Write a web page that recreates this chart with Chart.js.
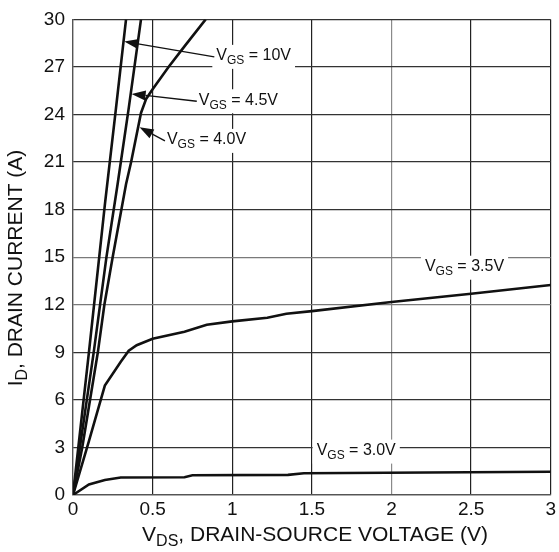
<!DOCTYPE html>
<html>
<head>
<meta charset="utf-8">
<script src="https://cdn.jsdelivr.net/npm/chart.js@4.4.1/dist/chart.umd.min.js"></script>
<style>
  body { margin: 0; background: #fff; }
  canvas { display: block; }
</style>
</head>
<body>
<canvas id="idChart" width="559" height="552"></canvas>
<script>
// =========================
// DATA
// =========================

const xTicks = [0, 0.5, 1, 1.5, 2, 2.5, 3];
const yTicks = [0, 3, 6, 9, 12, 15, 18, 21, 24, 27, 30];

const vgsNames = ["10V", "4.5V", "4.0V", "3.5V", "3.0V"];

const vds10 = [0, 0.1, 0.2, 0.27, 0.333];
const id10  = [0, 9, 18.3, 24.4, 30];

const vds45 = [0, 0.13, 0.21, 0.28, 0.35, 0.427];
const id45  = [0, 9, 15, 19.6, 24.4, 30];

const vds40 = [0, 0.058, 0.156, 0.197, 0.249, 0.333, 0.365, 0.427, 0.46, 0.5, 0.6, 0.7, 0.833];
const id40  = [0, 3, 9, 12, 15, 19.6, 21, 24.1, 25.0, 25.6, 27, 28.3, 30];

const vds35 = [0, 0.1, 0.2, 0.3, 0.35, 0.4, 0.5, 0.7, 0.84, 1.0, 1.22, 1.34, 1.5, 2.0, 2.5, 3.0];
const id35  = [0, 3.4, 6.9, 8.4, 9.1, 9.45, 9.85, 10.3, 10.74, 10.95, 11.18, 11.43, 11.6, 12.17, 12.69, 13.25];

const vds30 = [0, 0.1, 0.2, 0.3, 0.7, 0.75, 1.35, 1.45, 3.0];
const id30  = [0, 0.67, 0.95, 1.1, 1.12, 1.25, 1.27, 1.37, 1.47];

const curves = [[vds10, id10], [vds45, id45], [vds40, id40], [vds35, id35], [vds30, id30]];

const FONT = "'Liberation Sans', Arial, sans-serif";

// =========================
// label helpers (subscripts)
// =========================

function drawSub(ctx, x, y, main, sub, rest, size) {
    ctx.textBaseline = "middle";
    ctx.textAlign = "left";
    ctx.font = size + "px " + FONT;
    ctx.fillText(main, x, y);
    x += ctx.measureText(main).width;
    const subSize = Math.round(size * 0.78);
    ctx.font = subSize + "px " + FONT;
    ctx.fillText(sub, x, y + size * 0.32);
    x += ctx.measureText(sub).width;
    ctx.font = size + "px " + FONT;
    ctx.fillText(rest, x, y);
    x += ctx.measureText(rest).width;
    return x;
}

function subWidth(ctx, main, sub, rest, size) {
    ctx.font = size + "px " + FONT;
    let w = ctx.measureText(main).width + ctx.measureText(rest).width;
    ctx.font = Math.round(size * 0.78) + "px " + FONT;
    return w + ctx.measureText(sub).width;
}

// where each V_GS label sits, and where its arrow points (data units)
const notes = [
    { text: " = 10V",  x: 0.90, y: 27.7, tip: [0.322, 28.6] },
    { text: " = 4.5V", x: 0.79, y: 24.9, tip: [0.368, 25.3] },
    { text: " = 4.0V", x: 0.59, y: 22.4, tip: [0.418, 23.2] },
    { text: " = 3.5V", x: 2.21, y: 14.4 },
    { text: " = 3.0V", x: 1.53, y: 2.8 }
];

const notesPlugin = {
    id: "notes",
    afterDatasetsDraw(chart) {
        const ctx = chart.ctx;
        const xs = chart.scales.x, ys = chart.scales.y;
        ctx.save();
        notes.forEach(n => {
            const px = xs.getPixelForValue(n.x);
            const py = ys.getPixelForValue(n.y);
            const w = subWidth(ctx, "V", "GS", n.text, 16);
            ctx.fillStyle = "#fff";
            ctx.fillRect(px - 4, py - 11, w + 8, 24);
            ctx.fillStyle = "#111";
            drawSub(ctx, px, py, "V", "GS", n.text, 16);
            if (n.tip) {
                const tx = xs.getPixelForValue(n.tip[0]);
                const ty = ys.getPixelForValue(n.tip[1]);
                const sx = px - 2, sy = py + 1;
                const ang = Math.atan2(ty - sy, tx - sx);
                const len = 14, half = 5;
                const bx = tx - len * Math.cos(ang), by = ty - len * Math.sin(ang);
                ctx.strokeStyle = "#111";
                ctx.lineWidth = 1.3;
                ctx.beginPath();
                ctx.moveTo(sx, sy);
                ctx.lineTo(bx, by);
                ctx.stroke();
                ctx.beginPath();
                ctx.moveTo(tx, ty);
                ctx.lineTo(bx - half * Math.sin(ang), by + half * Math.cos(ang));
                ctx.lineTo(bx + half * Math.sin(ang), by - half * Math.cos(ang));
                ctx.closePath();
                ctx.fill();
            }
        });

        // axis titles
        ctx.fillStyle = "#111";
        const tw = subWidth(ctx, "V", "DS", ", DRAIN-SOURCE VOLTAGE (V)", 21);
        drawSub(ctx, 315 - tw / 2, 535, "V", "DS", ", DRAIN-SOURCE VOLTAGE (V)", 21);

        ctx.translate(16, 268);
        ctx.rotate(-Math.PI / 2);
        const yw = subWidth(ctx, "I", "D", ", DRAIN CURRENT (A)", 21);
        drawSub(ctx, -yw / 2, 0, "I", "D", ", DRAIN CURRENT (A)", 21);
        ctx.restore();
    }
};

// =========================
// CHART
// =========================

const el = document.getElementById("idChart");

new Chart(el, {
    type: "scatter",
    data: {
        datasets: curves.map((c, i) => ({
            label: "VGS = " + vgsNames[i],
            data: c[0].map((v, k) => ({ x: v, y: c[1][k] })),
            showLine: true,
            borderColor: "#111",
            borderWidth: 2.6,
            pointRadius: 0,
            tension: 0
        }))
    },
    options: {
        responsive: false,
        animation: false,
        layout: { padding: { top: 14, right: 5, left: 0, bottom: 0 } },
        plugins: {
            legend: { display: false },
            tooltip: { enabled: false }
        },
        scales: {
            x: {
                type: "linear",
                min: 0,
                max: 3,
                afterBuildTicks: axis => { axis.ticks = xTicks.map(v => ({ value: v })); },
                afterFit: axis => { axis.height = 57; },
                grid: {
                    drawTicks: false,
                    lineWidth: 1.2,
                    color: c => (c.tick && c.tick.value === 2) ? "#8a8a8a" : "#222"
                },
                border: { color: "#555", width: 1.2 },
                ticks: {
                    padding: 3,
                    color: "#111",
                    font: { family: FONT, size: 19 },
                    maxRotation: 0,
                    callback: v => String(v)
                }
            },
            y: {
                type: "linear",
                min: 0,
                max: 30,
                afterBuildTicks: axis => { axis.ticks = yTicks.map(v => ({ value: v })); },
                afterFit: axis => { axis.width = 73; },
                grid: {
                    drawTicks: false,
                    lineWidth: 1.2,
                    color: c => (c.tick && (c.tick.value === 12 || c.tick.value === 15)) ? "#7a7a7a" : "#333"
                },
                border: { color: "#555", width: 1.2 },
                ticks: {
                    padding: 8,
                    color: "#111",
                    font: { family: FONT, size: 19 },
                    callback: v => String(v)
                }
            }
        }
    },
    plugins: [notesPlugin]
});
</script>
</body>
</html>
